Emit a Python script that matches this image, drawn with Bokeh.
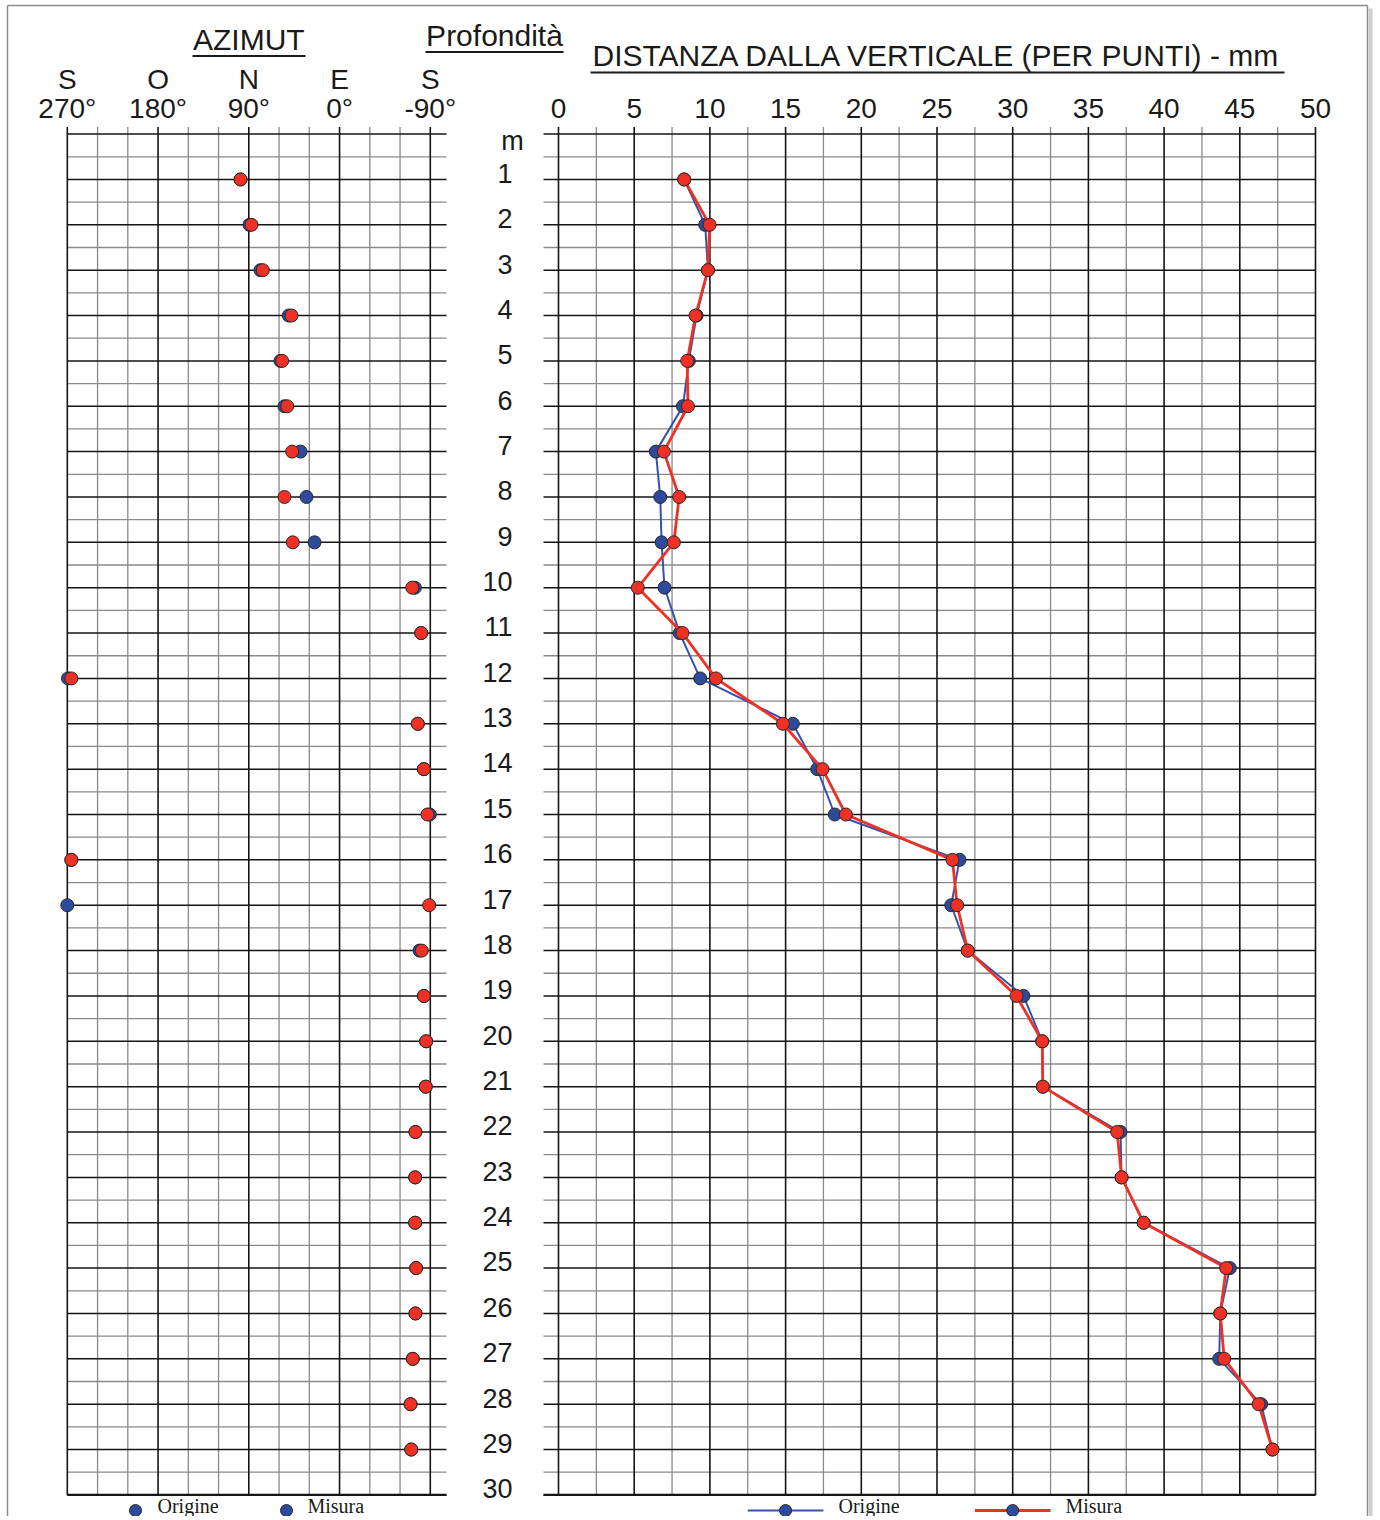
from bokeh.plotting import figure
from bokeh.models import Range1d
from bokeh.embed import file_html
from bokeh.resources import INLINE
from bokeh.core.properties import value

# ---------------- data ----------------
depths = list(range(1, 30))

az_origine = [98.2, 89.3, 78.4, 50.3, 58.6, 54.6, 38.7, 32.8, 24.8,
              -74.7, -81.0, 269.3, -77.6, -83.6, -89.5, 266.0, 270.0, -79.3,
              -83.6, -85.9, -85.5, -75.3, -75.0, -75.0, -76.0, -75.3, -72.6, -70.4, -71.1]
az_misura = [98.2, 87.3, 76.1, 47.7, 56.9, 51.9, 47.0, 54.6, 46.4,
             -72.1, -81.0, 266.0, -77.6, -83.6, -87.2, 266.0, -88.9, -81.6,
             -83.6, -85.9, -85.5, -75.3, -75.0, -75.0, -76.0, -75.3, -72.6, -70.4, -71.1]

dist_origine = [8.30, 9.69, 9.87, 9.12, 8.61, 8.22, 6.43, 6.72, 6.81, 7.00,
                8.00, 9.36, 15.48, 17.09, 18.25, 26.49, 25.94, 27.03, 30.71, 31.95,
                31.99, 37.12, 37.19, 38.65, 44.34, 43.71, 43.64, 46.41, 47.16]
dist_misura = [8.30, 9.98, 9.87, 9.05, 8.50, 8.55, 6.96, 7.97, 7.62, 5.24,
               8.19, 10.40, 14.82, 17.44, 18.98, 26.02, 26.33, 27.03, 30.25, 31.95,
               31.99, 36.90, 37.19, 38.65, 44.10, 43.71, 43.97, 46.24, 47.16]

az_tick_values = [270, 180, 90, 0, -90]
az_tick_labels = ["270°", "180°", "90°", "0°", "-90°"]
az_cardinal_labels = ["S", "O", "N", "E", "S"]
az_minor_values = [240, 210, 150, 120, 60, 30, -30, -60]

dist_tick_values = [0, 5, 10, 15, 20, 25, 30, 35, 40, 45, 50]
dist_tick_labels = ["0", "5", "10", "15", "20", "25", "30", "35", "40", "45", "50"]
dist_minor_values = [2.5, 7.5, 12.5, 17.5, 22.5, 27.5, 32.5, 37.5, 42.5, 47.5]

depth_major_values = list(range(0, 31))
depth_minor_values = [i + 0.5 for i in range(30)]
depth_tick_values = list(range(1, 31))
depth_tick_labels = [str(i) for i in range(1, 31)]
depth_unit_label = "m"

title_az = "AZIMUT"
title_depth = "Profondità"
title_dist = "DISTANZA DALLA VERTICALE (PER PUNTI) - mm"
legend_labels = ["Origine", "Misura"]

# ---------------- layout (page pixels -> data units) ----------------
W, H = 1378, 1516
MM_ORIGIN_PX, MM_PX = 558.0, 15.14
AZ90_PX, AZ_PX = 248.3, 1.0083
D0_PX, D_PX = 133.6, 45.36


def mm_at(px):
    return (px - MM_ORIGIN_PX) / MM_PX


def az_at(px):
    return 90 - (px - AZ90_PX) / AZ_PX


def d_at(py):
    return (py - D0_PX) / D_PX


def base_at(py, fs):
    # alphabetic baseline correction observed for the svg text renderer
    return d_at(py - 0.45 * fs)


RED = "#EE3124"
BLUE = "#2E4A9C"
BLUE_LINE = "#3552AA"
OUT = "#2a2a2a"
MAJOR = "#151515"
MINOR = "#8a8a8a"
TXT = "#1a1a1a"
SANS = value("Liberation Sans")
SERIF = value("Liberation Serif")

p = figure(width=W, height=H, output_backend="svg", toolbar_location=None,
           x_range=Range1d(mm_at(0), mm_at(W)),
           y_range=Range1d(d_at(H), d_at(0)),
           x_axis_location=None, y_axis_location=None,
           min_border=0, outline_line_color=None,
           background_fill_color="white", border_fill_color="white")
p.extra_x_ranges = {"az": Range1d(az_at(0), az_at(W))}
p.grid.visible = False

TICK = 7 / D_PX
AZ_L, AZ_R = 270, az_at(446)
MM_L, MM_R = mm_at(543), 50

# ---- azimuth grid ----
p.segment(x0=az_minor_values, x1=az_minor_values, y0=[-TICK] * len(az_minor_values),
          y1=[30] * len(az_minor_values), x_range_name="az", line_color=MINOR, line_width=1.3)
p.segment(x0=[AZ_L] * 30, x1=[AZ_R] * 30, y0=depth_minor_values, y1=depth_minor_values,
          x_range_name="az", line_color=MINOR, line_width=1.3)
p.segment(x0=[AZ_L] * 31, x1=[AZ_R] * 31, y0=depth_major_values, y1=depth_major_values,
          x_range_name="az", line_color=MAJOR, line_width=1.5)
p.segment(x0=az_tick_values, x1=az_tick_values, y0=[-TICK] * 5, y1=[30] * 5,
          x_range_name="az", line_color=MAJOR, line_width=1.6)
p.segment(x0=[AZ_L], x1=[AZ_R], y0=[30], y1=[30], x_range_name="az",
          line_color=MAJOR, line_width=2.4)

# ---- distance grid ----
p.segment(x0=dist_minor_values, x1=dist_minor_values, y0=[-TICK] * len(dist_minor_values),
          y1=[30] * len(dist_minor_values), line_color=MINOR, line_width=1.3)
p.segment(x0=[MM_L] * 30, x1=[MM_R] * 30, y0=depth_minor_values, y1=depth_minor_values,
          line_color=MINOR, line_width=1.3)
p.segment(x0=[MM_L] * 31, x1=[MM_R] * 31, y0=depth_major_values, y1=depth_major_values,
          line_color=MAJOR, line_width=1.5)
p.segment(x0=dist_tick_values, x1=dist_tick_values, y0=[-TICK] * 11, y1=[30] * 11,
          line_color=MAJOR, line_width=1.6)
p.segment(x0=[MM_L], x1=[MM_R], y0=[30], y1=[30], line_color=MAJOR, line_width=2.4)

# ---- data: azimuth ----
p.scatter(az_origine, depths, x_range_name="az", size=13, fill_color=BLUE,
          line_color=OUT, line_width=1)
p.scatter(az_misura, depths, x_range_name="az", size=13, fill_color=RED,
          line_color=OUT, line_width=1)

# ---- data: distance ----
p.line(dist_origine, depths, line_color=BLUE_LINE, line_width=2)
p.scatter(dist_origine, depths, size=13, fill_color=BLUE, line_color=OUT, line_width=1)
p.line(dist_misura, depths, line_color=RED, line_width=2.8)
p.scatter(dist_misura, depths, size=13, fill_color=RED, line_color=OUT, line_width=1)

# ---- tick labels ----
FS_T = 28
p.text(x=az_tick_values, y=[base_at(92, FS_T)] * 5, text=az_cardinal_labels, x_range_name="az",
       text_font=SANS, text_font_size=f"{FS_T}px", text_align="center",
       text_baseline="alphabetic", text_color=TXT)
p.text(x=az_tick_values, y=[base_at(121, FS_T)] * 5, text=az_tick_labels, x_range_name="az",
       text_font=SANS, text_font_size=f"{FS_T}px", text_align="center",
       text_baseline="alphabetic", text_color=TXT)
p.text(x=dist_tick_values, y=[base_at(121, FS_T)] * 11, text=dist_tick_labels,
       text_font=SANS, text_font_size=f"{FS_T}px", text_align="center",
       text_baseline="alphabetic", text_color=TXT)
FS_D = 27
p.text(x=[mm_at(512)] * 30, y=[v + (6 - 0.45 * FS_D) / D_PX for v in depth_tick_values],
       text=depth_tick_labels, text_font=SANS, text_font_size=f"{FS_D}px", text_align="right",
       text_baseline="alphabetic", text_color=TXT)
p.text(x=[mm_at(512)], y=[base_at(153, FS_D)], text=[depth_unit_label],
       text_font=SANS, text_font_size=f"{FS_D}px", text_align="center",
       text_baseline="alphabetic", text_color=TXT)

# ---- titles (underlined) ----
FS_H = 30
p.text(x=[90], y=[base_at(52, FS_H)], text=[title_az], x_range_name="az", text_font=SANS,
       text_font_size=f"{FS_H}px", text_align="center", text_baseline="alphabetic", text_color=TXT)
p.segment(x0=[az_at(192)], x1=[az_at(305)], y0=[d_at(55.5)], y1=[d_at(55.5)], x_range_name="az",
          line_color=TXT, line_width=2)
p.text(x=[mm_at(494)], y=[base_at(48, FS_H)], text=[title_depth], text_font=SANS,
       text_font_size=f"{FS_H}px", text_align="center", text_baseline="alphabetic", text_color=TXT)
p.segment(x0=[mm_at(425)], x1=[mm_at(563)], y0=[d_at(51.5)], y1=[d_at(51.5)],
          line_color=TXT, line_width=2)
p.text(x=[25], y=[base_at(68, FS_H)], text=[title_dist], text_font=SANS,
       text_font_size=f"{FS_H}px", text_align="center", text_baseline="alphabetic", text_color=TXT)
p.segment(x0=[mm_at(590)], x1=[mm_at(1284)], y0=[d_at(72)], y1=[d_at(72)],
          line_color=TXT, line_width=2)

# ---- legends ----
FS_L = 20
LY = d_at(1510)
LT = base_at(1514, FS_L)
p.scatter([az_at(135), az_at(286)], [LY, LY], x_range_name="az", size=12,
          fill_color=BLUE, line_color=OUT, line_width=1)
p.text(x=[az_at(157), az_at(307)], y=[LT, LT], text=legend_labels, x_range_name="az",
       text_font=SERIF, text_font_size=f"{FS_L}px", text_align="left",
       text_baseline="alphabetic", text_color=TXT)
p.segment(x0=[12.5], x1=[17.5], y0=[LY], y1=[LY], line_color=BLUE_LINE, line_width=2)
p.segment(x0=[27.5], x1=[32.5], y0=[LY], y1=[LY], line_color=RED, line_width=2.8)
p.scatter([15, 30], [LY, LY], size=12, fill_color=BLUE, line_color=OUT, line_width=1)
p.text(x=[mm_at(838), mm_at(1065)], y=[LT, LT], text=legend_labels,
       text_font=SERIF, text_font_size=f"{FS_L}px", text_align="left",
       text_baseline="alphabetic", text_color=TXT)

# ---- page border ----
p.segment(x0=[mm_at(7)], x1=[mm_at(7)], y0=[d_at(5)], y1=[d_at(H)],
          line_color="#8c8c8c", line_width=1.5)
p.segment(x0=[mm_at(7)], x1=[mm_at(1367)], y0=[d_at(5)], y1=[d_at(5)],
          line_color="#8c8c8c", line_width=1.5)
p.segment(x0=[mm_at(1367)], x1=[mm_at(1367)], y0=[d_at(5)], y1=[d_at(H)],
          line_color="#8c8c8c", line_width=1.5)
p.segment(x0=[mm_at(1370)], x1=[mm_at(1370)], y0=[d_at(8)], y1=[d_at(H)],
          line_color="#cfcfcf", line_width=4)

open("out.html", "w").write(file_html(p, INLINE))
